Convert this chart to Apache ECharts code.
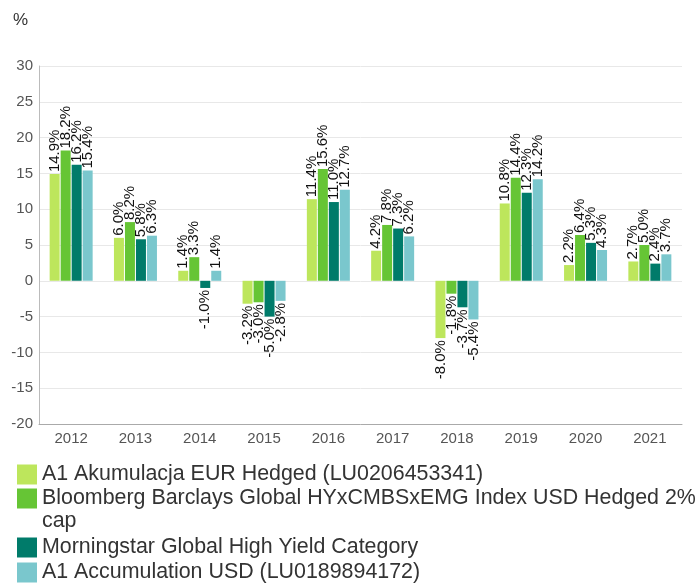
<!DOCTYPE html>
<html>
<head>
<meta charset="utf-8">
<script src="https://cdn.jsdelivr.net/npm/echarts@6/dist/echarts.min.js"></script>
<style>html,body{margin:0;padding:0;background:#fff}#c{width:698px;height:583px}</style>
</head>
<body>
<div id="c"></div>
<script>
var years = ['2012','2013','2014','2015','2016','2017','2018','2019','2020','2021'];
var seriesNames = [
  'A1 Akumulacja EUR Hedged (LU0206453341)',
  'Bloomberg Barclays Global HYxCMBSxEMG Index USD Hedged 2% cap',
  'Morningstar Global High Yield Category',
  'A1 Accumulation USD (LU0189894172)'
];
var fundEUR   = [14.9, 6.0, 1.4, -3.2, 11.4, 4.2, -8.0, 10.8, 2.2, 2.7];
var benchmark = [18.2, 8.2, 3.3, -3.0, 15.6, 7.8, -1.8, 14.4, 6.4, 5.0];
var category  = [16.2, 5.8, -1.0, -5.0, 11.0, 7.3, -3.7, 12.3, 5.3, 2.4];
var fundUSD   = [15.4, 6.3, 1.4, -2.8, 12.7, 6.2, -5.4, 14.2, 4.3, 3.7];
var colors = ['#bde65c', '#66c535', '#007b6a', '#7ac7cd'];
var yTicks = {min: -20, max: 30, interval: 5};

var allData = [fundEUR, benchmark, category, fundUSD];
var FONT = 'Liberation Sans, Arial, sans-serif';

function makeData(arr){
  return arr.map(function(v){
    var neg = v < 0;
    return {
      value: v,
      label: {
        position: neg ? 'bottom' : 'top',
        align: neg ? 'right' : 'left',
        verticalAlign: 'middle'
      }
    };
  });
}

var series = allData.map(function(arr, i){
  return {
    name: seriesNames[i],
    type: 'bar',
    barWidth: 10,
    barGap: '10%',
    itemStyle: {color: colors[i]},
    label: {
      show: true,
      rotate: 90,
      distance: 2,
      fontSize: 15,
      color: '#111',
      fontFamily: FONT,
      formatter: function(p){ return p.value.toFixed(1) + '%'; }
    },
    data: makeData(arr)
  };
});

var legendTops = [463, 464, 536, 561];
var legends = seriesNames.map(function(n, i){
  return {
    orient: 'vertical',
    left: 17,
    top: legendTops[i],
    padding: 0,
    itemWidth: 20,
    itemHeight: 20,
    icon: 'rect',
    selectedMode: false,
    data: [{name: n}],
    textStyle: {fontSize: 21.4, color: '#333', fontFamily: FONT, lineHeight: 23},
    formatter: i === 1 ? function(name){ return ' \n' + name.replace(' cap', '\ncap'); } : '{name}'
  };
});

var chart = echarts.init(document.getElementById('c'), null, {renderer: 'canvas'});
chart.setOption({
  animation: false,
  textStyle: {fontFamily: FONT},
  grid: {left: 39, right: 16, top: 66, bottom: 159, containLabel: false},
  graphic: [{
    type: 'text', left: 13, top: 12,
    style: {text: '%', fontSize: 17, fill: '#333', fontFamily: FONT}
  }],
  legend: legends,
  xAxis: {
    type: 'category',
    data: years,
    axisLine: {onZero: false, lineStyle: {color: '#aaa'}},
    axisTick: {show: false},
    axisLabel: {color: '#555', fontSize: 15, margin: 7}
  },
  yAxis: {
    type: 'value',
    min: yTicks.min, max: yTicks.max, interval: yTicks.interval,
    axisLine: {show: true, lineStyle: {color: '#bbb'}},
    axisTick: {show: false},
    axisLabel: {color: '#555', fontSize: 15, margin: 6},
    splitLine: {lineStyle: {color: '#e8e8e8'}}
  },
  series: series
});
</script>
</body>
</html>
